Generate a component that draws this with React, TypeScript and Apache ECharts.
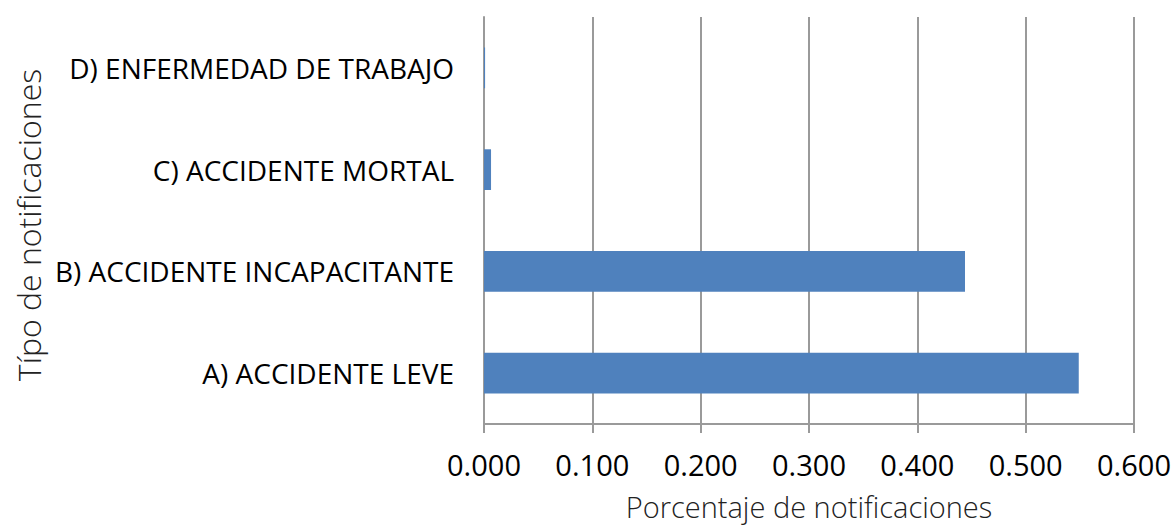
import React, { useEffect, useRef } from "react";
import * as echarts from "echarts";

const categories = [
  "A) ACCIDENTE LEVE",
  "B) ACCIDENTE INCAPACITANTE",
  "C) ACCIDENTE MORTAL",
  "D) ENFERMEDAD DE TRABAJO",
];
const values = [0.549, 0.444, 0.0065, 0.001];
const xTitle = "Porcentaje de notificaciones";
const yTitle = "Típo de notificaciones";

export default function App() {
  const ref = useRef<HTMLDivElement>(null);
  useEffect(() => {
    const chart = echarts.init(ref.current!, null, { renderer: "svg" });
    chart.setOption({
      animation: false,
      grid: { left: 484, right: 39, top: 17, bottom: 103, outerBoundsMode: "none", containLabel: false },
      graphic: [
        {
          type: "text",
          x: 809,
          y: 506,
          style: {
            text: xTitle,
            fill: "#222",
            fontFamily: "Open Sans",
            fontWeight: 300,
            fontSize: 29,
            align: "center",
            verticalAlign: "middle",
          },
        },
        {
          type: "text",
          x: 28,
          y: 225,
          rotation: Math.PI / 2,
          style: {
            text: yTitle,
            fill: "#222",
            fontFamily: "Open Sans",
            fontWeight: 300,
            fontSize: 32,
            align: "center",
            verticalAlign: "middle",
          },
        },
      ],
      xAxis: {
        type: "value",
        min: 0,
        max: 0.6,
        interval: 0.1,
        axisLine: { show: true, lineStyle: { color: "#9a9a9a", width: 2 } },
        axisTick: { show: true, length: 9, lineStyle: { color: "#9a9a9a", width: 2 } },
        splitLine: { show: true, lineStyle: { color: "#9a9a9a", width: 2 } },
        axisLabel: {
          margin: 26,
          color: "#000",
          fontFamily: "Open Sans",
          fontSize: 29,
          formatter: (v: number) => v.toFixed(3),
        },
      },
      yAxis: {
        type: "category",
        data: categories,
        axisLine: { show: true, lineStyle: { color: "#9a9a9a", width: 2 } },
        axisTick: { show: false },
        axisLabel: {
          margin: 30,
          color: "#000",
          fontFamily: "Open Sans",
          fontSize: 28,
        },
      },
      series: [
        {
          type: "bar",
          data: values,
          barWidth: "40%",
          itemStyle: { color: "#4F81BD" },
        },
      ],
    });
    return () => chart.dispose();
  }, []);
  return <div ref={ref} style={{ width: 1173, height: 527, position: "absolute", left: 0, top: 0 }} />;
}
